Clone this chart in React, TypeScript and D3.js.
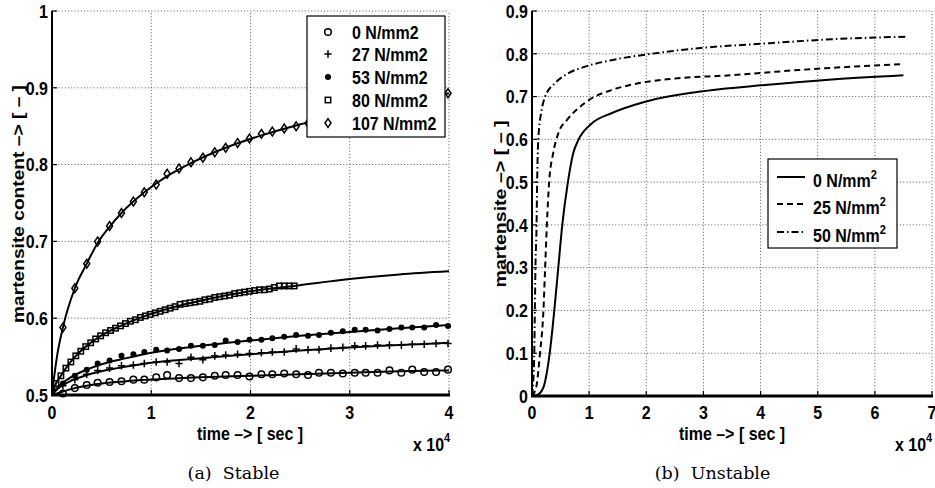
import React from 'react';
import * as d3 from 'd3';

const W = 935;
const H = 488;
const SANS = '"Liberation Sans", Arial, Helvetica, sans-serif';
const SERIF = '"DejaVu Serif", "Liberation Serif", serif';
const SY = 1.18;

// ---------- (a) Stable ----------
const stableXTicks = [0, 1, 2, 3, 4];
const stableYTicks = [0.5, 0.6, 0.7, 0.8, 0.9, 1];
const stableYTickLabels = ['0.5', '0.6', '0.7', '0.8', '0.9', '1'];
const stableLegend = ['0 N/mm2', '27 N/mm2', '53 N/mm2', '80 N/mm2', '107 N/mm2'];

const markerTimes = [0.11, 0.23, 0.35, 0.46, 0.58, 0.70, 0.82, 0.93, 1.05, 1.16, 1.28, 1.40, 1.52, 1.64, 1.75, 1.87, 1.99, 2.11, 2.22, 2.34, 2.46, 2.58, 2.69, 2.81, 2.93, 3.05, 3.16, 3.28, 3.40, 3.52, 3.63, 3.75, 3.87, 3.99];
const meas0 = [0.502, 0.509, 0.513, 0.516, 0.517, 0.518, 0.520, 0.520, 0.523, 0.526, 0.522, 0.522, 0.523, 0.525, 0.526, 0.526, 0.524, 0.527, 0.527, 0.528, 0.527, 0.526, 0.529, 0.529, 0.528, 0.529, 0.529, 0.529, 0.532, 0.529, 0.533, 0.530, 0.530, 0.533];
const meas27 = [0.512, 0.520, 0.527, 0.532, 0.535, 0.538, 0.539, 0.541, 0.543, 0.543, 0.541, 0.549, 0.546, 0.551, 0.552, 0.553, 0.554, 0.555, 0.556, 0.556, 0.560, 0.559, 0.559, 0.561, 0.562, 0.564, 0.564, 0.565, 0.565, 0.565, 0.566, 0.566, 0.567, 0.567];
const meas53 = [0.515, 0.525, 0.533, 0.541, 0.545, 0.551, 0.553, 0.556, 0.559, 0.558, 0.560, 0.564, 0.564, 0.565, 0.571, 0.569, 0.572, 0.572, 0.574, 0.576, 0.578, 0.577, 0.578, 0.581, 0.583, 0.585, 0.585, 0.584, 0.586, 0.588, 0.588, 0.588, 0.591, 0.590];
const meas107 = [0.588, 0.639, 0.671, 0.700, 0.720, 0.737, 0.752, 0.764, 0.774, 0.788, 0.795, 0.803, 0.809, 0.816, 0.822, 0.828, 0.834, 0.840, 0.843, 0.847, 0.850, 0.854, 0.857, 0.861, 0.864, 0.868, 0.871, 0.874, 0.877, 0.880, 0.884, 0.887, 0.890, 0.893];

const squareTimes = [0.04, 0.09, 0.14, 0.19, 0.24, 0.29, 0.34, 0.39, 0.44, 0.49, 0.54, 0.59, 0.64, 0.69, 0.74, 0.79, 0.84, 0.89, 0.94, 0.99, 1.04, 1.09, 1.14, 1.19, 1.24, 1.29, 1.34, 1.39, 1.44, 1.49, 1.54, 1.59, 1.64, 1.69, 1.74, 1.79, 1.84, 1.89, 1.94, 1.99, 2.04, 2.09, 2.14, 2.19, 2.24, 2.29, 2.34, 2.39, 2.44];
const meas80 = [0.515, 0.525, 0.535, 0.543, 0.551, 0.557, 0.563, 0.568, 0.573, 0.577, 0.581, 0.584, 0.587, 0.590, 0.593, 0.596, 0.598, 0.601, 0.603, 0.605, 0.607, 0.609, 0.611, 0.613, 0.615, 0.618, 0.619, 0.620, 0.621, 0.622, 0.624, 0.625, 0.627, 0.628, 0.629, 0.630, 0.632, 0.633, 0.634, 0.635, 0.636, 0.637, 0.637, 0.638, 0.640, 0.642, 0.642, 0.642, 0.642];

const fit0T = [0, 0.1, 0.2, 0.35, 0.5, 0.75, 1, 1.5, 2, 2.5, 3, 3.5, 4];
const fit0V = [0.5, 0.504, 0.508, 0.512, 0.515, 0.518, 0.520, 0.523, 0.525, 0.527, 0.529, 0.531, 0.532];
const fit27T = [0, 0.05, 0.1, 0.2, 0.35, 0.5, 0.75, 1, 1.5, 2, 2.5, 3, 3.5, 4];
const fit27V = [0.5, 0.507, 0.512, 0.519, 0.526, 0.531, 0.537, 0.542, 0.548, 0.553, 0.558, 0.562, 0.565, 0.568];
const fit53T = [0, 0.05, 0.1, 0.2, 0.35, 0.5, 0.75, 1, 1.5, 2, 2.5, 3, 3.5, 4];
const fit53V = [0.5, 0.509, 0.515, 0.524, 0.533, 0.540, 0.548, 0.555, 0.564, 0.571, 0.577, 0.582, 0.587, 0.591];
const fit80T = [0, 0.04, 0.09, 0.14, 0.24, 0.34, 0.49, 0.69, 0.94, 1.24, 1.54, 1.99, 2.44, 3.0, 3.5, 4.0];
const fit80V = [0.5, 0.515, 0.525, 0.535, 0.551, 0.563, 0.577, 0.590, 0.603, 0.615, 0.624, 0.635, 0.642, 0.651, 0.657, 0.661];
const fit107T = [0, 0.02, 0.05, 0.11, 0.23, 0.35, 0.46, 0.58, 0.70, 0.93, 1.16, 1.4, 1.75, 2.11, 2.46, 3.0, 3.5, 4.0];
const fit107V = [0.5, 0.522, 0.55, 0.588, 0.639, 0.671, 0.698, 0.719, 0.737, 0.764, 0.785, 0.802, 0.822, 0.838, 0.851, 0.867, 0.880, 0.893];

// ---------- (b) Unstable ----------
const unstableXTicks = [0, 1, 2, 3, 4, 5, 6, 7];
const unstableYTicks = [0, 0.1, 0.2, 0.3, 0.4, 0.5, 0.6, 0.7, 0.8, 0.9];
const unstableYTickLabels = ['0', '0.1', '0.2', '0.3', '0.4', '0.5', '0.6', '0.7', '0.8', '0.9'];
const unstableLegend = ['0 N/mm', '25 N/mm', '50 N/mm'];

const u0T = [0, 0.1, 0.2, 0.26, 0.31, 0.39, 0.46, 0.53, 0.625, 0.72, 0.81, 1.045, 1.39, 1.98, 2.91, 4.08, 5.25, 6.5];
const u0V = [0, 0.003, 0.02, 0.055, 0.1, 0.2, 0.3, 0.4, 0.497, 0.567, 0.598, 0.637, 0.661, 0.688, 0.711, 0.727, 0.740, 0.750];
const u25T = [0, 0.04, 0.08, 0.14, 0.2, 0.23, 0.26, 0.30, 0.37, 0.46, 0.61, 0.84, 1.045, 1.39, 1.86, 2.5, 3.5, 4.66, 6.47];
const u25V = [0, 0.008, 0.025, 0.1, 0.2, 0.3, 0.4, 0.5, 0.567, 0.614, 0.645, 0.676, 0.696, 0.715, 0.731, 0.742, 0.750, 0.762, 0.776];
const u50T = [0, 0.02, 0.04, 0.05, 0.06, 0.08, 0.09, 0.11, 0.17, 0.23, 0.40, 0.63, 0.93, 1.39, 2.09, 2.91, 4.08, 5.25, 6.58];
const u50V = [0, 0.03, 0.1, 0.2, 0.3, 0.4, 0.5, 0.6, 0.669, 0.70, 0.731, 0.754, 0.770, 0.785, 0.800, 0.813, 0.824, 0.834, 0.840];

// ---------- scales ----------
const xA = d3.scaleLinear().domain([0, 4]).range([52, 449]);
const yA = d3.scaleLinear().domain([0.5, 1]).range([395, 11]);
const xB = d3.scaleLinear().domain([0, 7]).range([532, 932]);
const yB = d3.scaleLinear().domain([0, 0.9]).range([396, 11]);

const zip = (t: number[], v: number[]) => t.map((d, i) => [d, v[i]] as [number, number]);

const lineA = d3.line<[number, number]>().x(d => xA(d[0])).y(d => yA(d[1])).curve(d3.curveMonotoneX);
const lineB = d3.line<[number, number]>().x(d => xB(d[0])).y(d => yB(d[1])).curve(d3.curveMonotoneX);

type MK = 'circle' | 'plus' | 'dot' | 'square' | 'diamond';

function T({ x, y, anchor, size = 16, children }: any) {
  return (
    <text
      transform={`translate(${x},${y}) scale(1,${SY})`}
      textAnchor={anchor || 'start'}
      fontFamily={SANS}
      fontWeight="bold"
      fontSize={size}
      fill="#000"
    >
      {children}
    </text>
  );
}

function Marker({ x, y, kind }: { x: number; y: number; kind: MK }) {
  const sw = 1.5;
  if (kind === 'circle') return <circle cx={x} cy={y} r={3.3} fill="none" stroke="#000" strokeWidth={sw} />;
  if (kind === 'dot') return <circle cx={x} cy={y} r={3} fill="#000" />;
  if (kind === 'plus')
    return <path d={`M${x - 3.6},${y}H${x + 3.6}M${x},${y - 3.8}V${y + 3.8}`} stroke="#000" strokeWidth={sw} />;
  if (kind === 'square') return <rect x={x - 2.7} y={y - 2.7} width={5.4} height={5.4} fill="none" stroke="#000" strokeWidth={sw} />;
  return <path d={`M${x},${y - 4.4}L${x + 3},${y}L${x},${y + 4.4}L${x - 3},${y}Z`} fill="none" stroke="#000" strokeWidth={sw} />;
}

function Grid({ xs, ys, xt, yt, x0, x1, y0, y1 }: any) {
  return (
    <g stroke="#444" strokeWidth={0.9} strokeDasharray="1 2.2" fill="none">
      {xt.map((t: number) => (xs(t) > x0 + 1 ? <line key={'x' + t} x1={xs(t)} x2={xs(t)} y1={y0} y2={y1} /> : null))}
      {yt.map((t: number) => (ys(t) < y0 - 1 ? <line key={'y' + t} x1={x0} x2={x1} y1={ys(t)} y2={ys(t)} /> : null))}
    </g>
  );
}

function Axes({ xs, ys, xt, yt, ytl, x0, x1, y0, y1 }: any) {
  return (
    <g>
      <g stroke="#000" strokeWidth={1.2}>
        {xt.map((t: number) => <line key={'tx' + t} x1={xs(t)} x2={xs(t)} y1={y0} y2={y0 - 5} />)}
        {yt.map((t: number) => <line key={'ty' + t} x1={x0} x2={x0 + 5} y1={ys(t)} y2={ys(t)} />)}
      </g>
      <line x1={x0} x2={x0} y1={y1} y2={y0 + 1} stroke="#000" strokeWidth={2} />
      <line x1={x0 - 1} x2={x1 + 1} y1={y0} y2={y0} stroke="#000" strokeWidth={2.8} />
      {xt.map((t: number) => (
        <T key={'lx' + t} x={xs(t)} y={419} anchor="middle">{String(t)}</T>
      ))}
      {yt.map((t: number, i: number) => (
        <T key={'ly' + t} x={x0 - 4} y={ys(t) + 6.8} anchor="end">{ytl[i]}</T>
      ))}
    </g>
  );
}

export default function App() {
  const s0 = zip(markerTimes, meas0);
  const s27 = zip(markerTimes, meas27);
  const s53 = zip(markerTimes, meas53);
  const s107 = zip(markerTimes, meas107);
  const s80 = zip(squareTimes, meas80);
  const fits = [zip(fit0T, fit0V), zip(fit27T, fit27V), zip(fit53T, fit53V), zip(fit80T, fit80V), zip(fit107T, fit107V)];
  const legendKinds: MK[] = ['circle', 'plus', 'dot', 'square', 'diamond'];
  const legRowsA = [32, 54, 77, 100, 123];

  const uLines = [zip(u0T, u0V), zip(u25T, u25V), zip(u50T, u50V)];
  const dashes = [undefined, '6 4', '7 3 1.5 3'];
  const legRowsB = [177, 204, 232];

  return (
    <svg width={W} height={H} style={{ position: 'absolute', left: 0, top: 0, background: '#fff' }}>
      <rect x={0} y={0} width={W} height={H} fill="#fff" />
      {/* ===== left panel ===== */}
      <Grid xs={xA} ys={yA} xt={stableXTicks} yt={stableYTicks} x0={52} x1={449} y0={395} y1={11} />
      <g fill="none" stroke="#000" strokeWidth={2}>
        {fits.map((f, i) => <path key={i} d={lineA(f) || ''} />)}
      </g>
      {s0.map((d, i) => <Marker key={'c' + i} x={xA(d[0])} y={yA(d[1])} kind="circle" />)}
      {s27.map((d, i) => <Marker key={'p' + i} x={xA(d[0])} y={yA(d[1])} kind="plus" />)}
      {s53.map((d, i) => <Marker key={'d' + i} x={xA(d[0])} y={yA(d[1])} kind="dot" />)}
      {s80.map((d, i) => <Marker key={'s' + i} x={xA(d[0])} y={yA(d[1])} kind="square" />)}
      {s107.map((d, i) => <Marker key={'m' + i} x={xA(d[0])} y={yA(d[1])} kind="diamond" />)}
      <Axes xs={xA} ys={yA} xt={stableXTicks} yt={stableYTicks} ytl={stableYTickLabels} x0={52} x1={449} y0={395} y1={11} />
      {/* legend a */}
      <rect x={307} y={16} width={138} height={121} fill="#fff" stroke="#000" strokeWidth={1.2} />
      {stableLegend.map((s, i) => (
        <g key={'la' + i}>
          <Marker x={328} y={legRowsA[i]} kind={legendKinds[i]} />
          <T x={352} y={legRowsA[i] + 6.8}>{s}</T>
        </g>
      ))}
      <T x={250} y={440} anchor="middle">time –&gt; [ sec ]</T>
      <T x={413} y={451}>x 10</T>
      <T x={444} y={442} size={11}>4</T>
      <text transform="translate(24,204) rotate(-90)" textAnchor="middle" fontFamily={SANS} fontWeight="bold" fontSize={16} textLength={238} lengthAdjust="spacingAndGlyphs">martensite content –&gt; [ – ]</text>
      <text x={233.5} y={479} textAnchor="middle" fontFamily={SERIF} fontSize={17.5} xmlSpace="preserve">(a)  Stable</text>

      {/* ===== right panel ===== */}
      <Grid xs={xB} ys={yB} xt={unstableXTicks} yt={unstableYTicks} x0={532} x1={932} y0={396} y1={11} />
      <g fill="none" stroke="#000" strokeWidth={2}>
        {uLines.map((f, i) => <path key={i} d={lineB(f) || ''} strokeDasharray={dashes[i]} />)}
      </g>
      <Axes xs={xB} ys={yB} xt={unstableXTicks} yt={unstableYTicks} ytl={unstableYTickLabels} x0={532} x1={932} y0={396} y1={11} />
      <rect x={768} y={159} width={129} height={89} fill="#fff" stroke="#000" strokeWidth={1.2} />
      {unstableLegend.map((s, i) => (
        <g key={'lb' + i}>
          <line x1={777} x2={805} y1={legRowsB[i]} y2={legRowsB[i]} stroke="#000" strokeWidth={2} strokeDasharray={dashes[i]} />
          <T x={813} y={legRowsB[i] + 10}>
            {s}
            <tspan fontSize={11} dy={-7}>2</tspan>
          </T>
        </g>
      ))}
      <T x={732} y={440} anchor="middle">time –&gt; [ sec ]</T>
      <T x={895} y={451}>x 10</T>
      <T x={926} y={442} size={11}>4</T>
      <text transform="translate(506,204) rotate(-90)" textAnchor="middle" fontFamily={SANS} fontWeight="bold" fontSize={16} textLength={167} lengthAdjust="spacingAndGlyphs">martensite –&gt; [ – ]</text>
      <text x={712.5} y={479} textAnchor="middle" fontFamily={SERIF} fontSize={17.5} xmlSpace="preserve">(b)  Unstable</text>
    </svg>
  );
}
